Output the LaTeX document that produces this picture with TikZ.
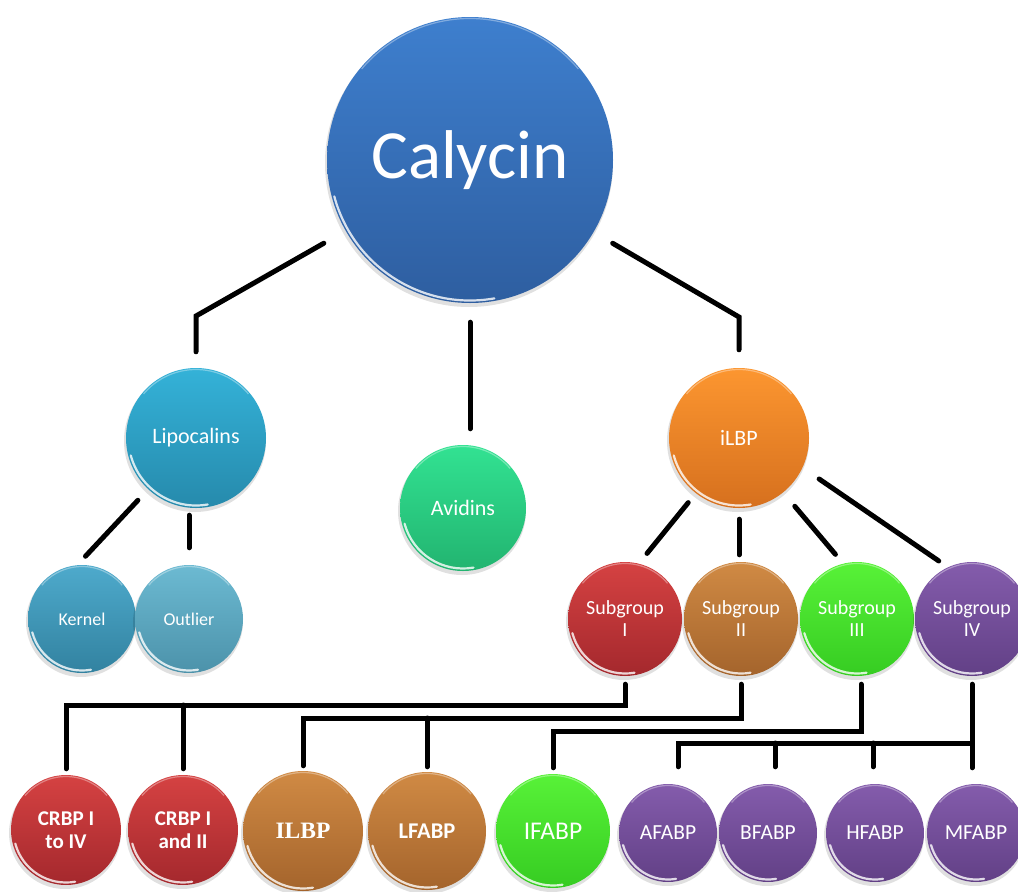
\documentclass[tikz,border=0pt]{standalone}
\usepackage{fontspec}
\setmainfont{Carlito}
\newfontfamily\serifbold{Liberation Serif}
\usetikzlibrary{positioning,calc}

\definecolor{calytop}{RGB}{62,127,206}
\definecolor{calybot}{RGB}{46,94,160}
\definecolor{lipotop}{RGB}{52,178,216}
\definecolor{lipobot}{RGB}{38,138,172}
\definecolor{kerntop}{RGB}{78,170,204}
\definecolor{kernbot}{RGB}{50,130,160}
\definecolor{outltop}{RGB}{108,186,210}
\definecolor{outlbot}{RGB}{76,146,170}
\definecolor{avidtop}{RGB}{50,226,146}
\definecolor{avidbot}{RGB}{34,180,112}
\definecolor{orngtop}{RGB}{252,150,48}
\definecolor{orngbot}{RGB}{214,112,30}
\definecolor{redtop}{RGB}{213,66,66}
\definecolor{redbot}{RGB}{164,40,45}
\definecolor{brwntop}{RGB}{208,138,68}
\definecolor{brwnbot}{RGB}{164,100,44}
\definecolor{grntop}{RGB}{88,242,56}
\definecolor{grnbot}{RGB}{54,204,34}
\definecolor{purptop}{RGB}{132,92,172}
\definecolor{purpbot}{RGB}{98,64,134}

% name, x, y, radius, colour, font, text
\newcommand{\ball}[7]{%
  \fill[black, opacity=0.12] (#2-1,#3+3) circle[radius=#4+1];
  \node[ball=#5, minimum size=#4*2pt, font=#6] (#1) at (#2,#3) {#7};
  \draw[gloss] (#1.center) ++(165:#4-2.5) arc[start angle=165, end angle=80, radius=#4-2.5];
  \draw[white, opacity=0.35, line width=1.2pt] (#1.center) ++(320:#4-1.5) arc[start angle=320, end angle=220, radius=#4-1.5];
}

\begin{document}
\begin{tikzpicture}[x=1pt, y=-1pt,
    ball/.style={circle, inner sep=0pt, text=white, align=center,
      top color=#1top, bottom color=#1bot},
    gloss/.style={white, opacity=0.8, line width=2.2pt, line cap=round},
    link/.style={black, line width=5pt, line cap=round}]
  \path[use as bounding box, clip] (0,0) rectangle (1018,892);
  \fill[white] (0,0) rectangle (1018,892);

  % top levels
  \ball{calycin}{470}{160}{143}{caly}{\fontsize{69}{72}\selectfont}{Calycin}
  \ball{lipocalins}{196}{438}{70}{lipo}{\fontsize{22}{24}\selectfont}{Lipocalins}
  \ball{avidins}{463}{508}{63}{avid}{\fontsize{22}{24}\selectfont}{Avidins}
  \ball{ilbp}{739}{438}{70}{orng}{\fontsize{22}{24}\selectfont}{iLBP}

  \ball{kernel}{82}{619}{54}{kern}{\fontsize{18}{20}\selectfont}{Kernel}
  \ball{outlier}{189}{619}{54}{outl}{\fontsize{18}{20}\selectfont}{Outlier}

  \ball{sub1}{625}{619}{57}{red}{\fontsize{20}{22}\selectfont}{Subgroup\\I}
  \ball{sub2}{741}{619}{57}{brwn}{\fontsize{20}{22}\selectfont}{Subgroup\\II}
  \ball{sub3}{857}{619}{57}{grn}{\fontsize{20}{22}\selectfont}{Subgroup\\III}
  \ball{sub4}{972}{619}{57}{purp}{\fontsize{20}{22}\selectfont}{Subgroup\\IV}

  % bottom row
  \ball{crbp1}{66}{830}{55}{red}{\fontsize{21}{23.5}\selectfont\bfseries}{CRBP I\\to IV}
  \ball{crbp2}{183}{830}{55}{red}{\fontsize{21}{23.5}\selectfont\bfseries}{CRBP I\\and II}
  \ball{ilbpb}{303}{831}{60}{brwn}{\fontsize{23.5}{25}\selectfont\serifbold\bfseries}{ILBP}
  \ball{lfabp}{427}{831}{59}{brwn}{\fontsize{22.5}{24}\selectfont\bfseries}{LFABP}
  \ball{ifabp}{553}{831}{57}{grn}{\fontsize{25.5}{27}\selectfont}{IFABP}
  \ball{afabp}{668}{833}{49}{purp}{\fontsize{21.5}{23}\selectfont}{AFABP}
  \ball{bfabp}{768}{833}{49}{purp}{\fontsize{21.5}{23}\selectfont}{BFABP}
  \ball{hfabp}{875}{833}{49}{purp}{\fontsize{21.5}{23}\selectfont}{HFABP}
  \ball{mfabp}{976}{833}{49}{purp}{\fontsize{21.5}{23}\selectfont}{MFABP}

  % connectors
  \coordinate (lipo elbow) at (196,316);
  \coordinate (ilbp elbow) at (739,317);
  \draw[link, shorten <=25pt, shorten >=16pt] (calycin) -- (lipo elbow) -- (lipocalins.north);
  \draw[link, shorten <=22pt, shorten >=18pt] (calycin) -- (ilbp elbow) -- (ilbp.north);
  \draw[link, shorten <=19pt, shorten >=16pt] (calycin.south) -- (calycin.south |- avidins.north);

  \draw[link, shorten <=15pt, shorten >=12pt] (lipocalins.227) -- (kernel.95);
  \draw[link, shorten <=7pt, shorten >=17pt] (outlier.north |- lipocalins.south) -- (outlier.north);

  \draw[link, shorten <=12pt, shorten >=13pt] (ilbp.232) -- (sub1.76);
  \draw[link, shorten <=11pt, shorten >=7pt] (ilbp.south) -- (ilbp.south |- sub2.north);
  \draw[link, shorten <=18pt, shorten >=12pt] (ilbp.309) -- (sub3.104);
  \draw[link, shorten <=20pt, shorten >=11pt] (ilbp.335) -- (sub4.115);

  \coordinate (bus1) at (0,705);
  \coordinate (bus2) at (0,718);
  \coordinate (bus3) at (0,731);
  \coordinate (bus4) at (0,743);
  \draw[link, shorten <=8pt, shorten >=6pt] (sub1.south) |- (crbp1.north |- bus1) -- (crbp1.north);
  \draw[link, shorten >=6pt] (crbp2.north |- bus1) -- (crbp2.north);
  \draw[link, shorten <=8pt, shorten >=5pt] (sub2.south) |- (ilbpb.north |- bus2) -- (ilbpb.north);
  \draw[link, shorten >=5pt] (lfabp.north |- bus2) -- (lfabp.north);
  \coordinate (sub3 tap) at ($(sub3.south)+(4,0)$);
  \draw[link, shorten <=8pt, shorten >=6pt] (sub3 tap) |- (ifabp.north |- bus3) -- (ifabp.north);

  \coordinate (afabp tap) at ($(afabp.north)+(10,0)$);
  \coordinate (bfabp tap) at ($(bfabp.north)+(7,0)$);
  \coordinate (hfabp tap) at ($(hfabp.north)+(-2,0)$);
  \draw[link, shorten <=8pt, shorten >=16pt] (sub4.south) -- (sub4.south |- mfabp.north);
  \draw[link, shorten >=17pt] (sub4.south |- bus4) -| (afabp tap);
  \draw[link, shorten >=17pt] (bfabp tap |- bus4) -- (bfabp tap);
  \draw[link, shorten >=17pt] (hfabp tap |- bus4) -- (hfabp tap);
\end{tikzpicture}
\end{document}
